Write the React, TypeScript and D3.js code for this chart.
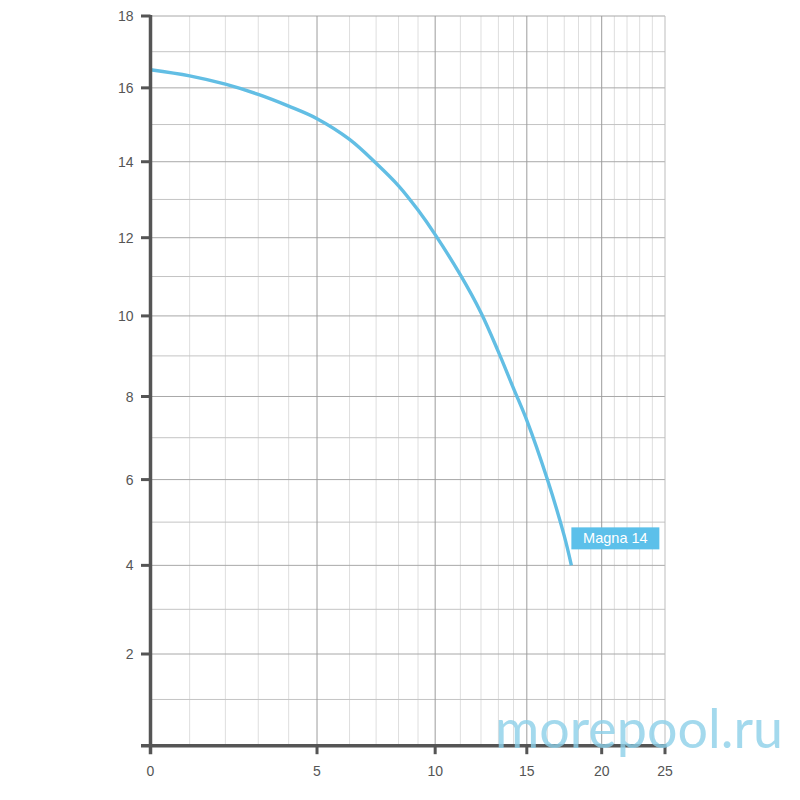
import * as React from 'react';
import * as d3 from 'd3';

// pump curve (flow, head)
const flow = [0, 1, 2, 3, 4, 5, 6, 7, 8, 9, 10, 11, 12, 13, 14, 15, 16, 17, 17.5];
const head = [16.5, 16.33, 16.1, 15.82, 15.5, 15.16, 14.6, 13.96, 13.36, 12.72, 12.08, 11.04, 10.08, 9.1, 8.2, 7.42, 6.0, 4.68, 4.0];
const seriesName = 'Magna 14';

const xTicks = [0, 5, 10, 15, 20, 25];
const yTicks = [2, 4, 6, 8, 10, 12, 14, 16, 18];
const xGrid = d3.range(0, 26);
const yGrid = d3.range(0, 19);
const watermark = 'morepool.ru';

const lineColor = '#62bee4';
const axisColor = '#555';

const renderChart = (node) => {
  const svg = d3.select(node);
  svg.selectAll('*').remove();

  // plot frame
  const left = 150.5;
  const right = 665;
  const top = 16;
  const bottom = 745.7;

  // x: log(q + 10) at the major ticks, each 5-unit block has its own minor spacing
  const xLog = d3.scaleLog().domain([10, 35]).range([left, right]);
  const xWarp = (v) => {
    const seg = Math.min(Math.floor(v / 5), 4);
    if (seg === 0) return xLog(v + 10);
    const a = seg * 5;
    const t = v - a;
    const x0 = xLog(a + 10);
    const x1 = xLog(a + 15);
    const f = seg < 4 ? Math.log((t + 4) / 4) / Math.log(9 / 4) : t / 5;
    return x0 + f * (x1 - x0);
  };
  const x = d3.scaleLinear().domain(xGrid).range(xGrid.map(xWarp));

  // y: log(h + 57)
  const yLog = d3.scaleLog().domain([57, 75]).range([bottom, top]);
  const y = (v) => yLog(v + 57);

  // minor vertical grid
  svg.append('g')
    .selectAll('line')
    .data(xGrid.filter(v => v % 5 !== 0))
    .join('line')
    .attr('x1', d => x(d)).attr('x2', d => x(d))
    .attr('y1', top).attr('y2', bottom)
    .attr('stroke', '#dedede')
    .attr('stroke-width', 1);

  // horizontal grid
  svg.append('g')
    .selectAll('line')
    .data(yGrid.slice(1))
    .join('line')
    .attr('x1', left).attr('x2', right)
    .attr('y1', d => y(d)).attr('y2', d => y(d))
    .attr('stroke', d => (d % 2 === 0 ? '#a8a8a8' : '#c4c4c4'))
    .attr('stroke-width', 1);

  // major vertical grid
  svg.append('g')
    .selectAll('line')
    .data(xTicks.slice(1))
    .join('line')
    .attr('x1', d => x(d)).attr('x2', d => x(d))
    .attr('y1', top).attr('y2', bottom)
    .attr('stroke', d => (d === 25 ? '#bdbdbd' : '#9c9c9c'))
    .attr('stroke-width', 1);

  // curve
  const line = d3.line()
    .x((d: any) => x(d[0]))
    .y((d: any) => y(d[1]))
    .curve(d3.curveCatmullRom.alpha(0.5));
  svg.append('path')
    .datum(flow.map((q, i) => [q, head[i]]))
    .attr('d', line)
    .attr('fill', 'none')
    .attr('stroke', lineColor)
    .attr('stroke-width', 3.4);

  // axes
  svg.append('line')
    .attr('x1', left).attr('x2', left)
    .attr('y1', top - 1).attr('y2', bottom + 8.5)
    .attr('stroke', axisColor).attr('stroke-width', 3.5);
  svg.append('line')
    .attr('x1', left - 9.5).attr('x2', right + 1.5)
    .attr('y1', bottom).attr('y2', bottom)
    .attr('stroke', axisColor).attr('stroke-width', 3.5);

  // y ticks + labels
  const yAxis = svg.append('g');
  yAxis.selectAll('line')
    .data(yTicks)
    .join('line')
    .attr('x1', left - 9.5).attr('x2', left)
    .attr('y1', d => y(d)).attr('y2', d => y(d))
    .attr('stroke', axisColor).attr('stroke-width', 3);
  yAxis.selectAll('text')
    .data(yTicks)
    .join('text')
    .attr('x', left - 17)
    .attr('y', d => y(d))
    .attr('dy', '0.36em')
    .attr('text-anchor', 'end')
    .attr('fill', axisColor)
    .attr('font-size', 14)
    .text(d => d);

  // x ticks + labels
  const xAxis = svg.append('g');
  xAxis.selectAll('line')
    .data(xTicks.slice(1))
    .join('line')
    .attr('x1', d => x(d)).attr('x2', d => x(d))
    .attr('y1', bottom).attr('y2', bottom + 8.5)
    .attr('stroke', axisColor).attr('stroke-width', 3);
  xAxis.selectAll('text')
    .data(xTicks)
    .join('text')
    .attr('x', d => x(d))
    .attr('y', bottom + 30)
    .attr('text-anchor', 'middle')
    .attr('fill', axisColor)
    .attr('font-size', 14)
    .text(d => d);

  // series label at end of curve
  const last = flow.length - 1;
  const lx = x(flow[last]);
  const ly = y(head[last]);
  svg.append('rect')
    .attr('x', lx)
    .attr('y', ly - 38)
    .attr('width', 88)
    .attr('height', 22)
    .attr('fill', '#5cc0ea');
  svg.append('text')
    .attr('x', lx + 44)
    .attr('y', ly - 22)
    .attr('text-anchor', 'middle')
    .attr('fill', '#fff')
    .attr('font-size', 14.5)
    .text(seriesName);

  // watermark
  svg.append('text')
    .attr('x', 495)
    .attr('y', 748)
    .attr('font-family', 'Lato, "Noto Sans", sans-serif')
    .attr('font-weight', 400)
    .attr('font-size', 55)
    .attr('textLength', 288)
    .attr('lengthAdjust', 'spacingAndGlyphs')
    .attr('fill', '#8ccfe9')
    .attr('fill-opacity', 0.8)
    .text(watermark);
};

const App = () => {
  const ref = React.useRef(null);

  React.useEffect(() => {
    renderChart(ref.current);
  }, []);

  return (
    <svg
      ref={ref}
      width={800}
      height={800}
      style={{
        position: 'absolute',
        left: 0,
        top: 0,
        background: '#fff',
        fontFamily: '"Helvetica Neue", "Liberation Sans", Arial, sans-serif',
      }}
    />
  );
};

export default App;
